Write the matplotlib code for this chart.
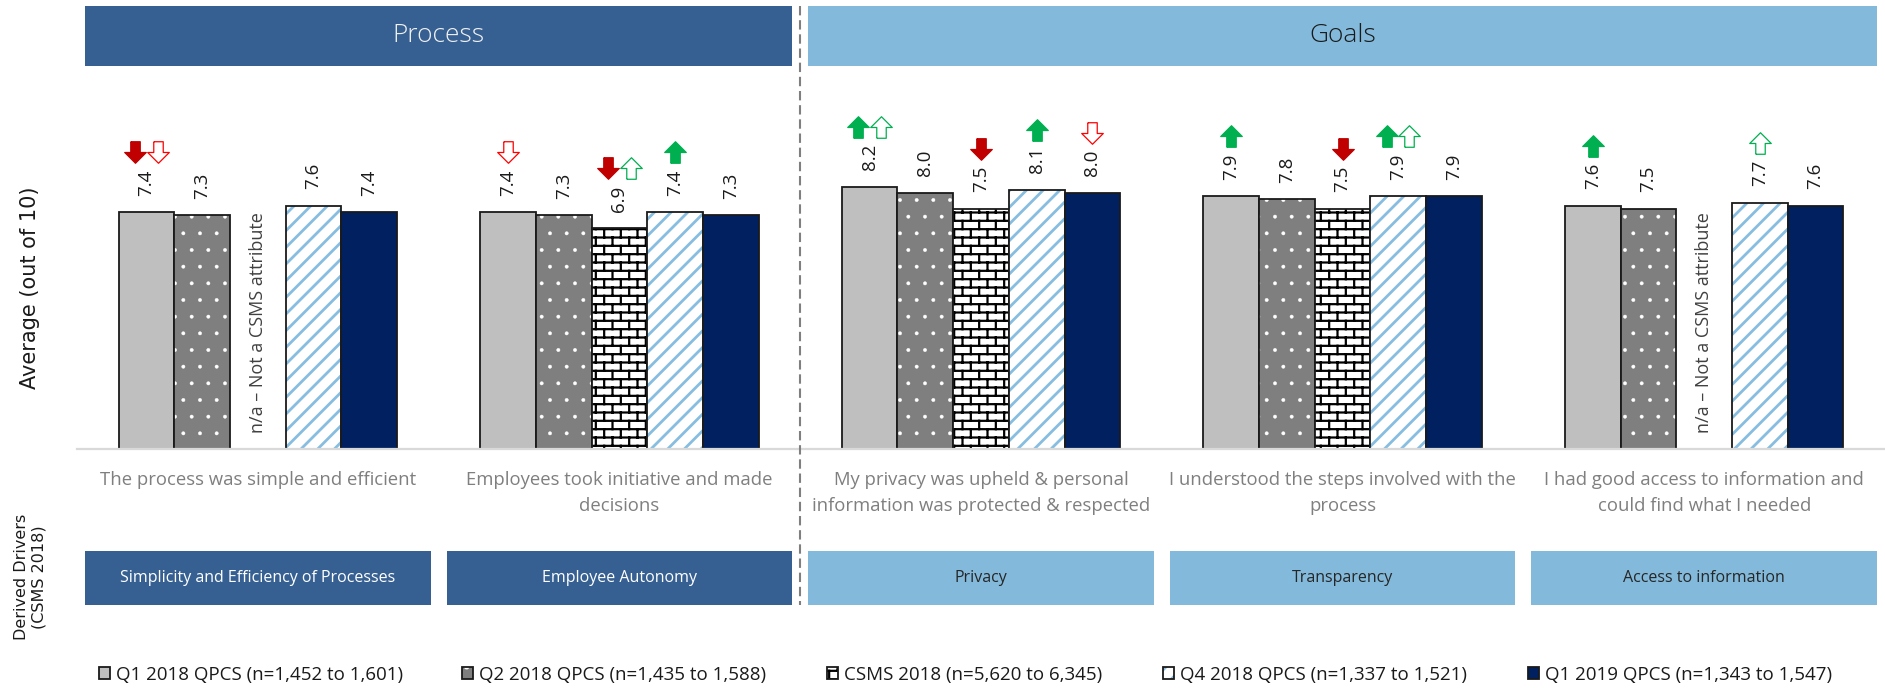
import numpy as np
import matplotlib
matplotlib.use('Agg')
import matplotlib.pyplot as plt
import matplotlib.hatch as mhatch
import matplotlib.transforms as mtransforms
from matplotlib.patches import Rectangle
from matplotlib.lines import Line2D
from matplotlib.path import Path

# ---- data ----
statements = [
    'The process was simple and efficient',
    'Employees took initiative and made\ndecisions',
    'My privacy was upheld & personal\ninformation was protected & respected',
    'I understood the steps involved with the\nprocess',
    'I had good access to information and\ncould find what I needed',
]
drivers = ['Simplicity and Efficiency of Processes', 'Employee Autonomy',
           'Privacy', 'Transparency', 'Access to information']
sections = ['Process', 'Goals']
series_names = ['Q1 2018 QPCS (n=1,452 to 1,601)', 'Q2 2018 QPCS (n=1,435 to 1,588)',
                'CSMS 2018 (n=5,620 to 6,345)', 'Q4 2018 QPCS (n=1,337 to 1,521)',
                'Q1 2019 QPCS (n=1,343 to 1,547)']
q1_2018 = [7.4, 7.4, 8.2, 7.9, 7.6]
q2_2018 = [7.3, 7.3, 8.0, 7.8, 7.5]
csms_2018 = [np.nan, 6.9, 7.5, 7.5, np.nan]
q4_2018 = [7.6, 7.4, 8.1, 7.9, 7.7]
q1_2019 = [7.4, 7.3, 8.0, 7.9, 7.6]
na_label = 'n/a \u2013 Not a CSMS attribute'
# significance arrows: (statement, series, marks)
# R = filled red down, r = outlined red down, G = filled green up, g = outlined green up
sig_marks = [
    (0, 0, 'Rr'),
    (1, 0, 'r'), (1, 2, 'Rg'), (1, 3, 'G'),
    (2, 0, 'Gg'), (2, 2, 'R'), (2, 3, 'G'), (2, 4, 'r'),
    (3, 0, 'G'), (3, 2, 'R'), (3, 3, 'Gg'),
    (4, 0, 'G'), (4, 3, 'g'),
]


# brick pattern for CSMS: staggered joints drawn between the '-' hatch lines
class BrickJoints(mhatch.HatchPatternBase):
    def __init__(self, hatch, density):
        self.rows = int(hatch.count('|') * density)
        self.cols = self.rows // 2
        self.num_vertices = (self.rows + 1) * self.cols * 2 if self.cols else 0

    def set_vertices_and_codes(self, vertices, codes):
        h = 1.0 / self.rows
        w = 1.0 / self.cols
        k = 0
        for r in range(self.rows + 1):
            y0 = max((r - 0.5) * h, 0.0)
            y1 = min((r + 0.5) * h, 1.0)
            shift = (r % 2) * w / 2
            for c in range(self.cols):
                xx = c * w + w / 4 + shift
                vertices[k] = (xx, y0)
                vertices[k + 1] = (xx, y1)
                codes[k] = Path.MOVETO
                codes[k + 1] = Path.LINETO
                k += 2


mhatch._hatch_types[:] = [BrickJoints if t is mhatch.VerticalHatch else t
                          for t in mhatch._hatch_types]

plt.rcParams['font.family'] = ['Open Sans', 'DejaVu Sans']
plt.rcParams['hatch.linewidth'] = 1.6

W, H = 1885, 688
fig = plt.figure(figsize=(W / 100, H / 100), dpi=100)
ax = fig.add_axes([77 / W, 1 - 449 / H, 1808 / W, 380 / H])
bt = mtransforms.blended_transform_factory(ax.transData, fig.transFigure)

DARK = '#376092'
LIGHT = '#83BADB'
TXT = '#1a1a1a'

# series styles: face, hatch, hatch colour, hatch linewidth
styles = [
    ('#BFBFBF', None, '#BFBFBF', 1.0),
    ('#7F7F7F', '.', 'white', 0.3),
    ('white', '--||', 'black', 1.6),
    ('white', '//', '#86BDE0', 2.0),
    ('#002060', None, '#002060', 1.0),
]
all_series = [q1_2018, q2_2018, csms_2018, q4_2018, q1_2019]

x = np.arange(len(statements))
width = 0.154
handles = []
for k, vals in enumerate(all_series):
    vals = np.array(vals, dtype=float)
    ok = ~np.isnan(vals)
    pos = x + (k - 2) * width
    fc, hatch, hc, hlw = styles[k]
    fill_bars = ax.bar(pos[ok], vals[ok], width, color=fc, edgecolor=hc,
                       linewidth=0, hatch=hatch)
    for p in fill_bars:
        if hasattr(p, 'set_hatch_linewidth'):
            p.set_hatch_linewidth(hlw)
    edge_bars = ax.bar(pos[ok], vals[ok], width, fill=False,
                       edgecolor='#1a1a1a', linewidth=1.3)
    handles.append((fill_bars, edge_bars))
    for xp, v in zip(pos[ok], vals[ok]):
        ax.annotate(f'{v:.1f}', (xp, v), xytext=(0, 12), textcoords='offset points',
                    rotation=90, ha='center', va='bottom', fontsize=13.5, color=TXT)
    for xp in pos[~ok]:
        ax.text(xp, 0.5, na_label, rotation=90, ha='center', va='bottom',
                fontsize=13, color='#404040')

# arrows
down = [(-0.22, 0.5), (0.22, 0.5), (0.22, 0.0), (0.5, 0.0), (0.0, -0.5),
        (-0.5, 0.0), (-0.22, 0.0), (-0.22, 0.5)]
up = [(a, -b) for a, b in down]
mark_style = {
    'R': (down, '#C00000', '#C00000'),
    'r': (down, 'white', '#FF0000'),
    'G': (up, '#00B050', '#00B050'),
    'g': (up, 'white', '#00B050'),
}
arrow_tr = ax.transData + mtransforms.ScaledTranslation(0, 43 / 72, fig.dpi_scale_trans)
for gi, si, marks in sig_marks:
    v = all_series[si][gi]
    xc = x[gi] + (si - 2) * width
    offs = [0.0] if len(marks) == 1 else [-0.031, 0.031]
    for m, dx in zip(marks, offs):
        verts, face, edge = mark_style[m]
        ax.plot([xc + dx], [v], marker=verts, ms=15.5, mfc=face, mec=edge, mew=0.9,
                ls='none', transform=arrow_tr, clip_on=False)

ax.set_xlim(-0.5, 4.5)
ax.set_ylim(0, 380 / 32)
for s in ['top', 'right', 'left']:
    ax.spines[s].set_visible(False)
ax.spines['bottom'].set_color('#D9D9D9')
ax.spines['bottom'].set_linewidth(1.6)
ax.set_xticks([])
ax.set_yticks([])
ax.patch.set_alpha(0)

# section headers
box_w = 0.956
hdr_y0, hdr_h = 1 - 66 / H, 60 / H
fig.add_artist(Rectangle((-box_w / 2, hdr_y0), 1 + box_w, hdr_h, transform=bt,
                         facecolor=DARK, edgecolor='none'))
fig.add_artist(Rectangle((2 - box_w / 2, hdr_y0), 2 + box_w, hdr_h, transform=bt,
                         facecolor=LIGHT, edgecolor='none'))
fig.text(0.5, hdr_y0 + hdr_h / 2, sections[0], transform=bt, ha='center', va='center',
         fontsize=19, fontweight='light', color='#F2F2F2')
fig.text(3.0, hdr_y0 + hdr_h / 2, sections[1], transform=bt, ha='center', va='center',
         fontsize=19, fontweight='light', color=TXT)

# statements and driver boxes
drv_y0, drv_h = 1 - 605 / H, 54 / H
for i, (st, dr) in enumerate(zip(statements, drivers)):
    fig.text(x[i], 1 - 471 / H, st, transform=bt, ha='center', va='top',
             fontsize=13.3, color='#7F7F7F', linespacing=1.55)
    fc = DARK if i < 2 else LIGHT
    fig.add_artist(Rectangle((x[i] - box_w / 2, drv_y0), box_w, drv_h, transform=bt,
                             facecolor=fc, edgecolor='none'))
    fig.text(x[i], drv_y0 + drv_h / 2, dr, transform=bt, ha='center', va='center',
             fontsize=11.5, color='white' if i < 2 else '#262626')

# divider between Process and Goals
fig.add_artist(Line2D([1.5, 1.5], [1 - 6 / H, 1 - 605 / H], transform=bt,
                      color='#7F7F7F', lw=1.5, ls=(0, (4.5, 2.3))))

fig.text(30 / W, 1 - 288 / H, 'Average (out of 10)', rotation=90, ha='center',
         va='center', fontsize=15, color=TXT, family='DejaVu Sans')
fig.text(30 / W, 1 - 577 / H, 'Derived Drivers\n(CSMS 2018)', rotation=90, ha='center',
         va='center', fontsize=11.5, color=TXT, multialignment='center',
         family='DejaVu Sans')

# legend, one entry per column
legend_x = [99, 462, 827, 1163, 1528]
for k, name in enumerate(series_names):
    fig.legend(handles=[handles[k]], labels=[name], loc='center left',
               bbox_to_anchor=(legend_x[k] / W, 1 - 675 / H), frameon=False,
               borderpad=0, borderaxespad=0, handlelength=0.6, handleheight=0.6,
               handletextpad=0.3, fontsize=13.5, labelcolor=TXT)

fig.savefig('out.png', dpi=100)
